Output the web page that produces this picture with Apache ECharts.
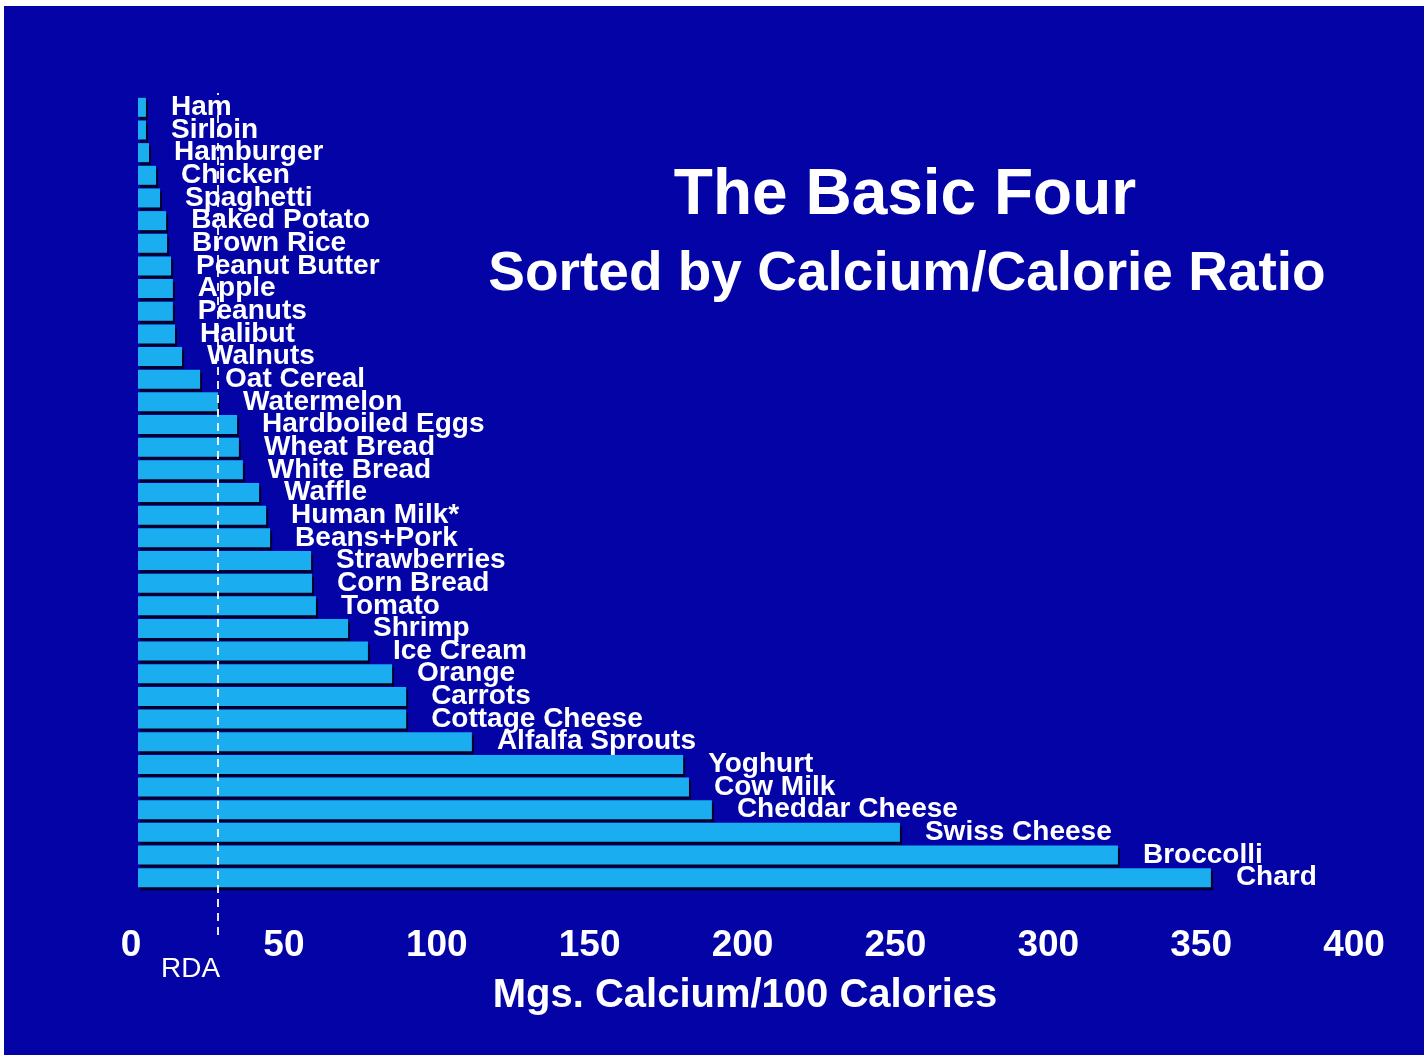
<!DOCTYPE html>
<html>
<head>
<meta charset="utf-8">
<script src="https://cdn.jsdelivr.net/npm/echarts@6/dist/echarts.min.js"></script>
<style>
  html, body { margin: 0; padding: 0; background: #ffffff; }
  #chart { position: absolute; left: 4px; top: 6px; width: 1420px; height: 1049px; background: #0303a6; }
</style>
</head>
<body>
<div id="chart"></div>
<script>
const foods = ['Ham', 'Sirloin', 'Hamburger', 'Chicken', 'Spaghetti', 'Baked Potato', 'Brown Rice',
  'Peanut Butter', 'Apple', 'Peanuts', 'Halibut', 'Walnuts', 'Oat Cereal', 'Watermelon',
  'Hardboiled Eggs', 'Wheat Bread', 'White Bread', 'Waffle', 'Human Milk*', 'Beans+Pork',
  'Strawberries', 'Corn Bread', 'Tomato', 'Shrimp', 'Ice Cream', 'Orange', 'Carrots',
  'Cottage Cheese', 'Alfalfa Sprouts', 'Yoghurt', 'Cow Milk', 'Cheddar Cheese', 'Swiss Cheese',
  'Broccolli', 'Chard'];
const calciumPer100Cal = [2.6, 2.6, 3.6, 5.9, 7.2, 9.2, 9.5,
  10.8, 11.4, 11.4, 12.1, 14.4, 20.3, 26.2,
  32.4, 33.0, 34.3, 39.6, 41.9, 43.2,
  56.6, 56.9, 58.2, 68.7, 75.2, 83.1, 87.7,
  87.7, 109.2, 178.3, 180.2, 187.7, 249.2,
  320.5, 350.9];
const rdaValue = 26.2;
const axisMin = 0, axisMax = 400, axisStep = 50;
const titleText = 'The Basic Four';
const subtitleText = 'Sorted by Calcium/Calorie Ratio';
const axisTitle = 'Mgs. Calcium/100 Calories';
const rdaLabel = 'RDA';

const chart = echarts.init(document.getElementById('chart'));
const option = {
  animation: false,
  backgroundColor: '#0303a6',
  title: [
    { text: titleText, left: 901, top: 158, textAlign: 'center', padding: 0,
      textStyle: { color: '#ffffff', fontSize: 64, fontWeight: 'bold', fontFamily: 'Liberation Sans, Arial, sans-serif' } },
    { text: subtitleText, left: 903, top: 241, textAlign: 'center', padding: 0,
      textStyle: { color: '#ffffff', fontSize: 55, fontWeight: 'bold', fontFamily: 'Liberation Sans, Arial, sans-serif' } },
    { text: axisTitle, left: 741, top: 970, textAlign: 'center', padding: 0,
      textStyle: { color: '#ffffff', fontSize: 40, fontWeight: 'bold', fontFamily: 'Liberation Sans, Arial, sans-serif' } }
  ],
  grid: [
    { left: 134, right: 63, top: 90, bottom: 166 },
    { left: 134, right: 63, top: 87, bottom: 120 }
  ],
  xAxis: [
    { type: 'value', gridIndex: 0, min: axisMin, max: axisMax, interval: axisStep,
      axisLine: { show: false }, axisTick: { show: false }, splitLine: { show: false },
      axisLabel: { color: '#ffffff', fontSize: 37, fontWeight: 'bold', margin: 38,
        padding: [0, 14, 0, 0],
        fontFamily: 'Liberation Sans, Arial, sans-serif' } },
    { type: 'value', gridIndex: 1, min: axisMin, max: axisMax, show: false }
  ],
  yAxis: [
    { type: 'category', gridIndex: 0, data: foods, inverse: true, show: false },
    { type: 'value', gridIndex: 1, min: 0, max: 1, show: false }
  ],
  series: [
    { type: 'bar', xAxisIndex: 0, yAxisIndex: 0, data: calciumPer100Cal, barWidth: 19,
      itemStyle: { color: '#1aaef0', shadowColor: '#00002a', shadowOffsetX: 2, shadowOffsetY: 3, shadowBlur: 0 },
      label: { show: true, position: 'right', distance: 25, formatter: '{b}', color: '#ffffff',
        fontSize: 28, fontWeight: 'bold', fontFamily: 'Liberation Sans, Arial, sans-serif' } },
    { type: 'scatter', xAxisIndex: 1, yAxisIndex: 1, data: [], silent: true,
      markLine: { silent: true, symbol: ['none', 'none'], animation: false,
        label: { show: false },
        lineStyle: { color: '#ffffff', type: [8, 6], width: 2, opacity: 0.9 },
        data: [{ xAxis: rdaValue }] } }
  ]
};
chart.setOption(option);
const rdaX = chart.convertToPixel({ xAxisIndex: 1 }, rdaValue);
chart.setOption({
  graphic: [{ type: 'text', left: rdaX - 57, top: 949,
    style: { text: rdaLabel, fill: '#ffffff', fontSize: 28, fontFamily: 'Liberation Sans, Arial, sans-serif' } }]
});
</script>
</body>
</html>
